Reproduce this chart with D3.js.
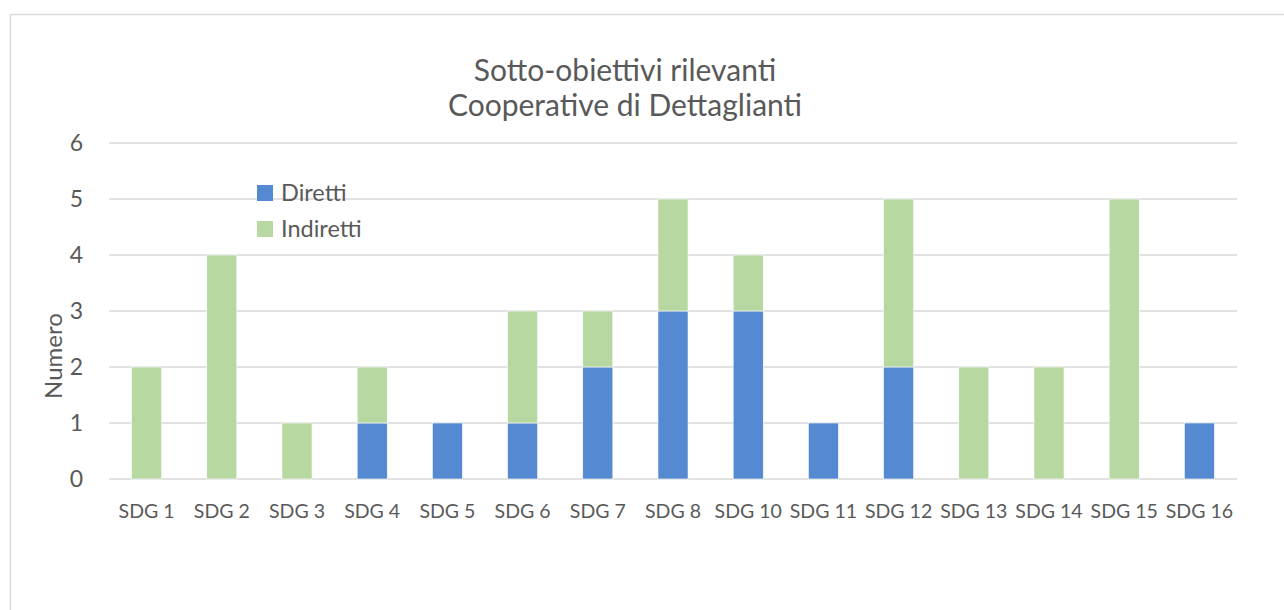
<!DOCTYPE html>
<html>
<head>
<meta charset="utf-8">
<script src="https://cdn.jsdelivr.net/npm/d3@7"></script>
<style>
  html, body { margin: 0; padding: 0; background: #fff; }
  svg { display: block; }
  text { font-family: Lato, "Open Sans", "Liberation Sans", sans-serif; fill: #595959; }
</style>
</head>
<body>
<svg id="chart" width="1284" height="610"></svg>
<script>
const categories = ["SDG 1","SDG 2","SDG 3","SDG 4","SDG 5","SDG 6","SDG 7","SDG 8","SDG 10","SDG 11","SDG 12","SDG 13","SDG 14","SDG 15","SDG 16"];
const diretti   = [0,0,0,1,1,1,2,3,3,1,2,0,0,0,1];
const indiretti = [2,4,1,1,0,2,1,2,1,0,3,2,2,5,0];
const seriesNames = ["Diretti","Indiretti"];
const yTicks = [0,1,2,3,4,5,6];
const titleLines = ["Sotto-obiettivi rilevanti","Cooperative di Dettaglianti"];
const yLabel = "Numero";

const colors = {Diretti: "#5589D1", Indiretti: "#B8D8A1"};

const svg = d3.select("#chart");

// chart frame
svg.append("rect").attr("x", 10.5).attr("y", 14.5).attr("width", 1290).attr("height", 620)
  .attr("fill", "#fff").attr("stroke", "#d9d9d9").attr("stroke-width", 1.5);

const m = {left: 109, right: 1237, top: 143, bottom: 479};

const x = d3.scaleBand().domain(categories).range([m.left, m.right]).paddingInner(0.6).paddingOuter(0.3);
const y = d3.scaleLinear().domain([0, 6]).range([m.bottom, m.top]);

// gridlines
svg.append("g").selectAll("line").data(yTicks).join("line")
  .attr("x1", m.left).attr("x2", m.right)
  .attr("y1", d => y(d)).attr("y2", d => y(d))
  .attr("stroke", "#d9d9d9").attr("stroke-width", 1.5);

// y tick labels
svg.append("g").selectAll("text").data(yTicks).join("text")
  .attr("x", 83).attr("y", d => y(d)).attr("dy", "0.36em")
  .attr("text-anchor", "end").attr("font-size", 23).text(d => d);

// y label
svg.append("text").attr("transform", `translate(62,356) rotate(-90)`)
  .attr("text-anchor", "middle").attr("font-size", 24).text(yLabel);

// stacked data
const rows = categories.map((c, i) => ({cat: c, Diretti: diretti[i], Indiretti: indiretti[i]}));
const stacked = d3.stack().keys(seriesNames)(rows);

svg.append("g").selectAll("g").data(stacked).join("g")
  .attr("fill", s => colors[s.key])
  .selectAll("rect").data(s => s.filter(d => d[1] - d[0] > 0)).join("rect")
  .attr("x", d => x(d.data.cat)).attr("width", x.bandwidth())
  .attr("y", d => y(d[1])).attr("height", d => y(d[0]) - y(d[1]))
  .attr("stroke", "#fff").attr("stroke-width", 0.6);

// x labels
svg.append("g").selectAll("text").data(categories).join("text")
  .attr("x", d => x(d) + x.bandwidth()/2).attr("y", 518)
  .attr("text-anchor", "middle").attr("font-size", 19.5).text(d => d);

// title
svg.append("g").selectAll("text").data(titleLines).join("text")
  .attr("x", 625).attr("y", (d, i) => 81 + i * 35)
  .attr("text-anchor", "middle").attr("font-size", 30).text(d => d);

// legend
const lg = svg.append("g");
seriesNames.forEach((n, i) => {
  lg.append("rect").attr("x", 257).attr("y", 185 + i * 36).attr("width", 16).attr("height", 16).attr("fill", colors[n]);
  lg.append("text").attr("x", 281).attr("y", 193 + i * 36).attr("dy", "0.36em").attr("font-size", 23.5).text(n);
});
</script>
</body>
</html>
